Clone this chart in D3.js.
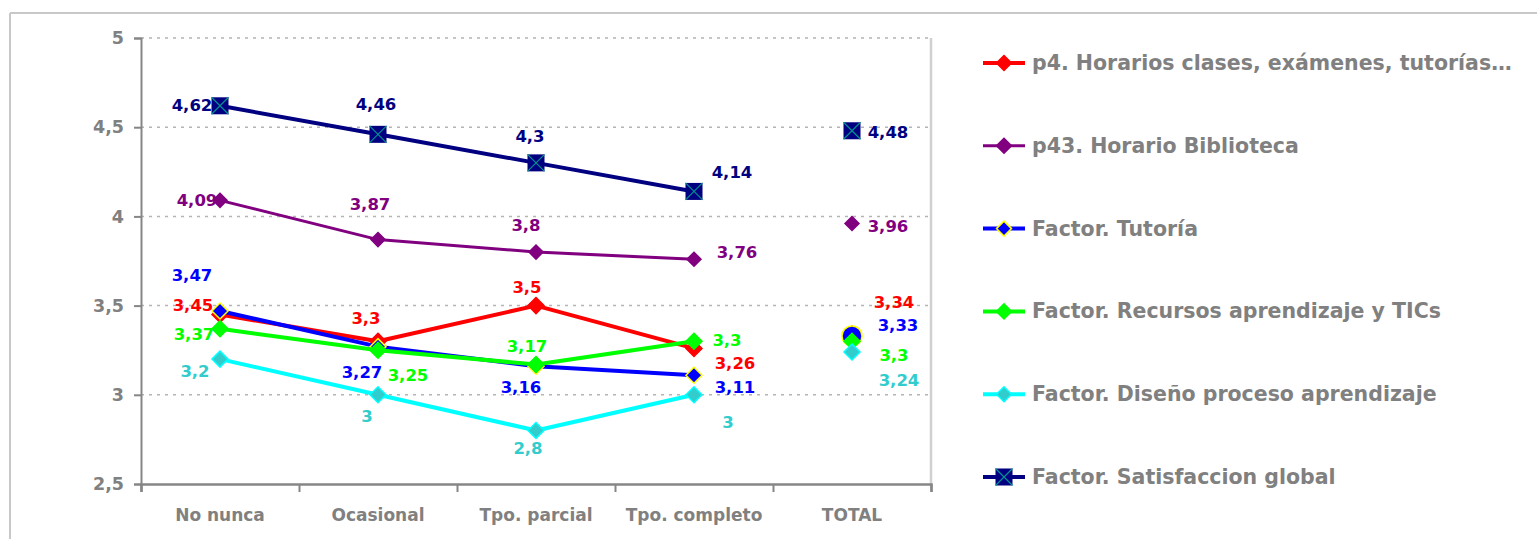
<!DOCTYPE html>
<html><head><meta charset="utf-8">
<script src="https://cdn.jsdelivr.net/npm/d3@7"></script>
<style>body{margin:0;background:#fff}svg{display:block}text{font-family:"DejaVu Sans",sans-serif;font-weight:bold}</style>
</head><body><svg id="c" width="1537" height="539"></svg>
<script>
const categories = ["No nunca","Ocasional","Tpo. parcial","Tpo. completo","TOTAL"];
const yTicks = [2.5,3,3.5,4,4.5,5];
const seriesNames = ["p4. Horarios clases, exámenes, tutorías…","p43. Horario Biblioteca","Factor. Tutoría","Factor. Recursos aprendizaje y TICs","Factor. Diseño proceso aprendizaje","Factor. Satisfaccion global"];
const p4 = [3.45,3.3,3.5,3.26,3.34];
const p43 = [4.09,3.87,3.8,3.76,3.96];
const tutoria = [3.47,3.27,3.16,3.11,3.33];
const recursos = [3.37,3.25,3.17,3.3,3.3];
const diseno = [3.2,3.0,2.8,3.0,3.24];
const satisfaccion = [4.62,4.46,4.3,4.14,4.48];

// styles (not data)
const styles = [
  {line:"#FF0000", fill:"#FF0000", stroke:"#FF0000", label:"#FF0000", shape:"diamond", r:8, lw:4},
  {line:"#800080", fill:"#800080", stroke:"#800080", label:"#800080", shape:"diamond", r:7, lw:3},
  {line:"#0000FF", fill:"#0000FF", stroke:"#FFFF00", label:"#0000FF", shape:"diamond", r:8, lw:4, totalShape:"circle"},
  {line:"#00FF00", fill:"#00FF00", stroke:"#00FF00", label:"#00FF00", shape:"diamond", r:8, lw:4},
  {line:"#00FFFF", fill:"#33CCCC", stroke:"#00FFFF", label:"#33CCCC", shape:"diamond", r:8, lw:4},
  {line:"#000080", fill:"#000080", stroke:"#000080", label:"#000080", shape:"square", r:8.5, lw:4}
];
// label placement offsets [dx,dy] per point
const labelOffsets = [
  [[-27,-9],[-12,-23],[-9,-18],[41,15],[42,-32]],
  [[-23,0],[-8,-35],[-10,-27],[43,-7],[36,3]],
  [[-28,-35],[-16,26],[-15,21],[41,12],[46,-10]],
  [[-26,6],[30,25],[-9,-18],[33,-1],[42,14]],
  [[-25,12],[-11,22],[-8,18],[34,28],[47,29]],
  [[-28,0],[-2,-30],[-6,-26],[38,-19],[36,2]]
];
const seriesValues = [p4,p43,tutoria,recursos,diseno,satisfaccion];

const svg = d3.select("#c");
const pLeft = 141, pRight = 931, pTop = 38, pBottom = 484;
const x = d3.scaleBand().domain(categories).range([pLeft,pRight]);
const y = d3.scaleLinear().domain([2.5,5]).range([pBottom,pTop]);
const fmt = v => String(v).replace(".", ",");

// outer frame
svg.append("line").attr("x1",10).attr("x2",1537).attr("y1",13).attr("y2",13).attr("stroke","#c8c8c8").attr("stroke-width",2);
svg.append("line").attr("x1",10).attr("x2",10).attr("y1",13).attr("y2",539).attr("stroke","#c8c8c8").attr("stroke-width",2);

// grid
svg.append("g").selectAll("line").data(yTicks.filter(t=>t>2.5)).join("line")
  .attr("x1",pLeft).attr("x2",pRight).attr("y1",d=>y(d)).attr("y2",d=>y(d))
  .attr("stroke","#b4b4b4").attr("stroke-width",1.5).attr("stroke-dasharray","3,5");
// plot right border
svg.append("line").attr("x1",pRight).attr("x2",pRight).attr("y1",pTop).attr("y2",pBottom).attr("stroke","#d0d0d0").attr("stroke-width",2.5);

// y axis
const ya = svg.append("g").attr("transform",`translate(${pLeft},0)`)
  .call(d3.axisLeft(y).tickValues(yTicks).tickSize(7).tickPadding(10).tickFormat(fmt));
ya.select(".domain").attr("stroke","#868686").attr("stroke-width",2);
ya.selectAll(".tick line").attr("stroke","#868686").attr("stroke-width",2);
ya.selectAll("text").attr("fill","#808080").style("font-size","17.5px").style("font-family","DejaVu Sans").style("font-weight","bold");

// x axis
const edges = d3.range(categories.length+1);
const xe = d3.scaleLinear().domain([0,categories.length]).range([pLeft,pRight]);
const xa = svg.append("g").attr("transform",`translate(0,${pBottom})`)
  .call(d3.axisBottom(xe).tickValues(edges).tickSize(8).tickFormat(""));
xa.select(".domain").attr("stroke","#868686").attr("stroke-width",2.5);
xa.selectAll(".tick line").attr("stroke","#868686").attr("stroke-width",2);
const xl = svg.append("g").attr("transform",`translate(0,${pBottom})`)
  .call(d3.axisBottom(x).tickSize(0).tickPadding(25));
xl.select(".domain").remove();
xl.selectAll("text").attr("fill","#808080").style("font-size","17px").style("font-family","DejaVu Sans").style("font-weight","bold");

function drawMarker(g, shape, r, st, lx, ly) {
  if (shape === "diamond") {
    g.append("path").attr("d",`M${lx},${ly-r}L${lx+r},${ly}L${lx},${ly+r}L${lx-r},${ly}Z`)
      .attr("fill",st.fill).attr("stroke",st.stroke).attr("stroke-width",1.5);
  } else if (shape === "circle") {
    g.append("circle").attr("cx",lx).attr("cy",ly).attr("r",r)
      .attr("fill",st.fill).attr("stroke",st.stroke).attr("stroke-width",1.5);
  } else {
    g.append("rect").attr("x",lx-r).attr("y",ly-r).attr("width",2*r).attr("height",2*r).attr("fill",st.fill);
    g.append("path").attr("d",`M${lx-r},${ly-r}L${lx+r},${ly+r}M${lx+r},${ly-r}L${lx-r},${ly+r}`)
      .attr("stroke","#009090").attr("stroke-width",1.2);
  }
}

const cx = c => x(c) + x.bandwidth()/2;
const line = d3.line().x(d=>cx(d.c)).y(d=>y(d.v));
const plot = svg.append("g");
seriesValues.forEach((vals,i) => {
  const st = styles[i];
  const pts = vals.map((v,j)=>({c:categories[j], v}));
  const g = plot.append("g");
  g.append("path").datum(pts.slice(0,4)).attr("d",line).attr("fill","none")
    .attr("stroke",st.line).attr("stroke-width",st.lw).attr("stroke-linejoin","round");
  pts.forEach((p,j) => {
    const isCircle = (j===4 && st.totalShape);
    drawMarker(g, isCircle ? st.totalShape : st.shape, isCircle ? 10 : st.r, st, cx(p.c), y(p.v));
  });
});
// labels
seriesValues.forEach((vals,i) => {
  const st = styles[i];
  svg.append("g").selectAll("text").data(vals).join("text")
    .attr("x",(v,j)=>cx(categories[j]) + labelOffsets[i][j][0])
    .attr("y",(v,j)=>y(v) + labelOffsets[i][j][1])
    .attr("text-anchor","middle").attr("dominant-baseline","central")
    .attr("fill",st.label).style("font-size","16.5px").text(fmt);
});

// legend
const lg = svg.append("g");
seriesNames.forEach((name,i) => {
  const st = styles[i];
  const ly = 63 + i*82.8;
  lg.append("line").attr("x1",983).attr("x2",1025).attr("y1",ly).attr("y2",ly).attr("stroke",st.line).attr("stroke-width",st.lw);
  drawMarker(lg, st.shape, st.shape==="square"?8.5:7.5, st, 1004, ly);
  lg.append("text").attr("x",1032).attr("y",ly).attr("dominant-baseline","central")
    .attr("fill","#808080").style("font-size","20.5px").text(name);
});
</script></body></html>
